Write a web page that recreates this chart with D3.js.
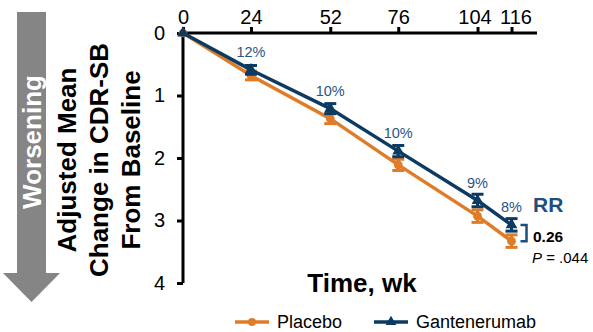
<!DOCTYPE html>
<html>
<head>
<meta charset="utf-8">
<script src="https://cdn.jsdelivr.net/npm/d3@7"></script>
<style>
  body { margin: 0; background: #fff; }
  svg { font-family: "Liberation Sans", Arial, sans-serif; }
</style>
</head>
<body>
<svg id="chart"></svg>
<script>
// Data
const weeks = [0, 24, 52, 76, 104, 116];
const placebo = [0, 0.68, 1.37, 2.11, 2.93, 3.33];
const gantenerumab = [0, 0.59, 1.21, 1.89, 2.68, 3.07];
const errPlacebo = [0, 0.07, 0.08, 0.09, 0.1, 0.1];
const errGant = [0, 0.07, 0.08, 0.09, 0.1, 0.1];
const reductionLabels = ['', '12%', '10%', '10%', '9%', '8%'];
const yTicks = [0, 1, 2, 3, 4];

const width = 593;
const height = 332;
const orange = '#e07b28';
const navy = '#0b3a63';

const svg = d3.select('#chart')
  .attr('width', width)
  .attr('height', height);

// Scales
const x = d3.scaleLinear().domain([0, 125]).range([183, 537]);
const y = d3.scaleLinear().domain([0, 4]).range([33, 283]);

// Worsening arrow
const arrow = svg.append('g');
arrow.append('path')
  .attr('d', 'M17,12 H46 V273 H60 L31.5,302 L3,273 H17 Z')
  .attr('fill', '#858585');
arrow.append('text')
  .attr('transform', 'translate(41,142) rotate(-90)')
  .attr('text-anchor', 'middle')
  .attr('fill', '#fff')
  .attr('font-size', 26)
  .attr('font-weight', 'bold')
  .text('Worsening');

// Y axis title
const ytitle = svg.append('text')
  .attr('transform', 'translate(101,160) rotate(-90)')
  .attr('text-anchor', 'middle')
  .attr('font-size', 26)
  .attr('font-weight', 'bold')
  .attr('fill', '#000');
['Adjusted Mean', 'Change in CDR-SB', 'From Baseline'].forEach((t, i) => {
  ytitle.append('tspan')
    .attr('x', 0)
    .attr('y', (i - 1) * 32 + 7)
    .text(t);
});

// Axes
const yAxis = svg.append('g')
  .attr('transform', `translate(${x(0)},0)`)
  .call(d3.axisLeft(y).tickValues(yTicks).tickSize(6).tickPadding(12).tickFormat(d3.format('d')));

const xAxis = svg.append('g')
  .attr('transform', `translate(0,${y(0)})`)
  .call(d3.axisTop(x).tickValues(weeks).tickSize(6).tickPadding(3).tickFormat(d3.format('d')));

[xAxis, yAxis].forEach(a => {
  a.select('.domain').attr('stroke', '#000').attr('stroke-width', 3);
  a.selectAll('.tick line').attr('stroke', '#000').attr('stroke-width', 3);
  a.selectAll('.tick text')
    .attr('fill', '#000')
    .attr('font-size', 20)
    .attr('font-family', '"Liberation Sans", Arial, sans-serif');
});
xAxis.select('.domain').attr('d', `M${x(0)},0H${x(125)}`);
yAxis.select('.domain').attr('d', `M0,${y(0)}V${y(4)}`);
// nudge the two close labels apart
xAxis.selectAll('.tick text').attr('dx', d => d === 104 ? -3 : d === 116 ? 4 : 0);

// X axis title
svg.append('text')
  .attr('x', 362)
  .attr('y', 292)
  .attr('text-anchor', 'middle')
  .attr('font-size', 26)
  .attr('font-weight', 'bold')
  .text('Time, wk');

// Series
const line = d3.line().x(d => x(d[0])).y(d => y(d[1]));

function drawSeries(values, errs, color, shape) {
  const pts = weeks.map((w, i) => [w, values[i], errs[i]]);
  const g = svg.append('g');
  g.append('path')
    .datum(pts)
    .attr('d', line)
    .attr('fill', 'none')
    .attr('stroke', color)
    .attr('stroke-width', 3.5);
  const eb = g.selectAll('.eb')
    .data(pts.filter(d => d[0] > 0))
    .enter().append('g');
  eb.append('line')
    .attr('x1', d => x(d[0])).attr('x2', d => x(d[0]))
    .attr('y1', d => y(d[1] - d[2])).attr('y2', d => y(d[1] + d[2]))
    .attr('stroke', color).attr('stroke-width', 3);
  [-1, 1].forEach(s => {
    eb.append('line')
      .attr('x1', d => x(d[0]) - 6).attr('x2', d => x(d[0]) + 6)
      .attr('y1', d => y(d[1] + s * d[2])).attr('y2', d => y(d[1] + s * d[2]))
      .attr('stroke', color).attr('stroke-width', 3);
  });
  g.selectAll('.mk')
    .data(pts)
    .enter().append('path')
    .attr('transform', d => `translate(${x(d[0])},${y(d[1])})`)
    .attr('d', d3.symbol().type(shape).size(60))
    .attr('fill', color);
}

drawSeries(placebo, errPlacebo, orange, d3.symbolCircle);
drawSeries(gantenerumab, errGant, navy, d3.symbolTriangle);

// Percent reduction labels
svg.selectAll('.pct')
  .data(weeks.map((w, i) => [w, gantenerumab[i], reductionLabels[i]]).filter(d => d[2]))
  .enter().append('text')
  .attr('x', d => x(d[0]))
  .attr('y', d => y(d[1]) - 13)
  .attr('text-anchor', 'middle')
  .attr('font-size', 14.5)
  .attr('fill', '#2a5585')
  .text(d => d[2]);

// RR annotation
const last = weeks.length - 1;
svg.append('text')
  .attr('x', 533).attr('y', 212)
  .attr('font-size', 21).attr('font-weight', 'bold')
  .attr('fill', '#1f4e7d')
  .text('RR');
svg.append('path')
  .attr('d', `M${x(116) + 9},${y(gantenerumab[last])}H${x(116) + 15}V${y(placebo[last])}H${x(116) + 9}`)
  .attr('fill', 'none')
  .attr('stroke', '#1f4e7d')
  .attr('stroke-width', 2.5);
svg.append('text')
  .attr('x', 533).attr('y', 242)
  .attr('font-size', 15.5).attr('font-weight', 'bold')
  .text('0.26');
const pt = svg.append('text')
  .attr('x', 532).attr('y', 263)
  .attr('font-size', 15);
pt.append('tspan').attr('font-style', 'italic').text('P');
pt.append('tspan').text(' = .044');

// Legend
const legend = [
  { name: 'Placebo', color: orange, shape: d3.symbolCircle, x: 235 },
  { name: 'Gantenerumab', color: navy, shape: d3.symbolTriangle, x: 374 }
];
const lg = svg.selectAll('.lg')
  .data(legend)
  .enter().append('g')
  .attr('transform', d => `translate(${d.x},322)`);
lg.append('line')
  .attr('x1', 0).attr('x2', 34)
  .attr('stroke', d => d.color).attr('stroke-width', 3.5);
lg.append('path')
  .attr('transform', 'translate(17,0)')
  .attr('d', d => d3.symbol().type(d.shape).size(50)())
  .attr('fill', d => d.color);
lg.append('text')
  .attr('x', 42).attr('y', 6)
  .attr('font-size', 18)
  .text(d => d.name);
</script>
</body>
</html>
